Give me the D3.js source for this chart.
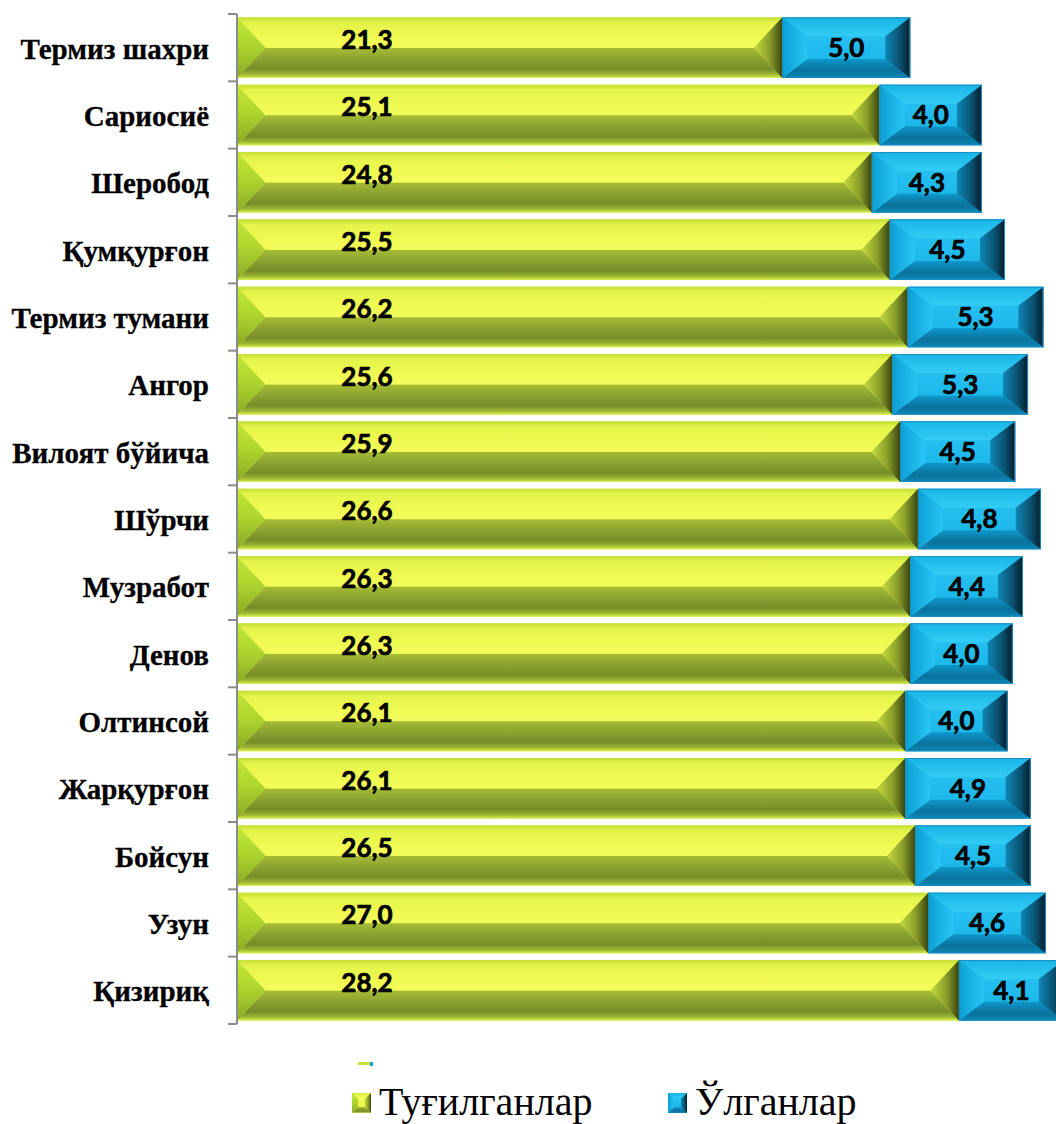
<!DOCTYPE html>
<html>
<head>
<meta charset="utf-8">
<script src="https://cdn.jsdelivr.net/npm/d3@7"></script>
<style>
  html, body { margin: 0; padding: 0; background: #fff; }
  svg { display: block; }
</style>
</head>
<body>
<div id="chart"></div>
<script>
// data
var categories = ["Термиз шахри", "Сариосиё", "Шеробод", "Қумқурғон", "Термиз тумани", "Ангор",
  "Вилоят бўйича", "Шўрчи", "Музработ", "Денов", "Олтинсой", "Жарқурғон", "Бойсун", "Узун", "Қизириқ"];
var births = [21.3, 25.1, 24.8, 25.5, 26.2, 25.6, 25.9, 26.6, 26.3, 26.3, 26.1, 26.1, 26.5, 27.0, 28.2];
var deaths = [5.0, 4.0, 4.3, 4.5, 5.3, 5.3, 4.5, 4.8, 4.4, 4.0, 4.0, 4.9, 4.5, 4.6, 4.1];
var seriesNames = ["Туғилганлар", "Ўлганлар"];

var width = 1056, height = 1124;
var locale = d3.formatLocale({decimal: ",", thousands: " ", grouping: [3], currency: ["", ""]});
var fmt = locale.format(".1f");

var svg = d3.select("#chart").append("svg")
    .attr("width", width)
    .attr("height", height);

var x = d3.scaleLinear().domain([0, 30]).range([237, 237 + 768]);
var y = d3.scaleBand().domain(categories).range([14, 1024]).paddingInner(0.1).paddingOuter(0.05);

// gradients for the bevelled look
var defs = svg.append("defs");
function grad(id, vertical, stops) {
  var g = defs.append("linearGradient").attr("id", id)
    .attr("x1", 0).attr("y1", 0)
    .attr("x2", vertical ? 0 : 1).attr("y2", vertical ? 1 : 0);
  stops.forEach(function(s) {
    g.append("stop").attr("offset", s[0]).attr("stop-color", s[1]);
  });
}
grad("gTop", true, [[0, "#c4de3a"], [0.18, "#e4f44a"], [0.6, "#eef950"], [1, "#f4fc5c"]]);
grad("gBot", true, [[0, "#a6bc36"], [0.35, "#8ca430"], [0.7, "#768c28"], [0.88, "#9cb832"], [1, "#dcf052"]]);
grad("gLeft", true, [[0, "#c4e63a"], [0.45, "#aed62e"], [1, "#8aa826"]]);
grad("gRight", false, [[0, "#c4da3c"], [0.55, "#8a9e2a"], [1, "#3a4410"]]);
grad("bTop", true, [[0, "#18b4e6"], [1, "#34cdf6"]]);
grad("bBot", true, [[0, "#0e98cc"], [0.6, "#0a729c"], [1, "#0c86b6"]]);
grad("bLeft", false, [[0, "#0c9ed2"], [1, "#28c6f4"]]);
grad("bRight", false, [[0, "#0e86b4"], [0.6, "#0a5070"], [1, "#041c28"]]);
grad("bFace", true, [[0, "#2cc6f4"], [1, "#16b2e6"]]);

var green = {face: "#eaf84e", top: "url(#gTop)", bot: "url(#gBot)", left: "url(#gLeft)", right: "url(#gRight)", stroke: "none", bx: 28, by: 30};
var blue = {face: "url(#bFace)", top: "url(#bTop)", bot: "url(#bBot)", left: "url(#bLeft)", right: "url(#bRight)", stroke: "#1a8fc0", bx: 25, by: 19};

function pts(a) { return a.map(function(p) { return p.join(","); }).join(" "); }

function bevelBar(g, x0, x1, y0, h, st) {
  var y1 = y0 + h;
  var bx = Math.min(st.bx, (x1 - x0) / 2), by = Math.min(st.by, h / 2);
  g.append("rect").attr("x", x0).attr("y", y0).attr("width", x1 - x0).attr("height", h).attr("fill", st.face);
  g.append("polygon").attr("points", pts([[x0, y0], [x1, y0], [x1 - bx, y0 + by], [x0 + bx, y0 + by]])).attr("fill", st.top);
  g.append("polygon").attr("points", pts([[x0 + bx, y1 - by], [x1 - bx, y1 - by], [x1, y1], [x0, y1]])).attr("fill", st.bot);
  g.append("polygon").attr("points", pts([[x0, y0], [x0 + bx, y0 + by], [x0 + bx, y1 - by], [x0, y1]])).attr("fill", st.left);
  g.append("polygon").attr("points", pts([[x1, y0], [x1, y1], [x1 - bx, y1 - by], [x1 - bx, y0 + by]])).attr("fill", st.right);
  if (st.stroke != "none") {
    g.append("rect").attr("x", x0 + 0.5).attr("y", y0 + 0.5).attr("width", x1 - x0 - 1).attr("height", h - 1)
      .attr("fill", "none").attr("stroke", st.stroke).attr("stroke-width", 1);
  }
}

function valueText(g, tx, ty, v) {
  g.append("text")
    .attr("x", tx)
    .attr("y", ty)
    .attr("dy", "0.36em")
    .attr("text-anchor", "middle")
    .attr("fill", "#000")
    .attr("stroke", "#000")
    .attr("stroke-width", 0.7)
    .style("font-family", "Lato, sans-serif")
    .style("font-weight", "bold")
    .style("font-size", "26px")
    .text(fmt(v));
}

var bars = svg.append("g").attr("class", "bars");
categories.forEach(function(c, i) {
  var g = bars.append("g");
  var y0 = y(c), h = y.bandwidth();
  bevelBar(g, x(0), x(births[i]), y0, h, green);
  bevelBar(g, x(births[i]), x(births[i] + deaths[i]), y0, h, blue);
  valueText(g, x(0) + 130, y0 + h / 2 - 8, births[i]);
  valueText(g, (x(births[i]) + x(births[i] + deaths[i])) / 2, y0 + h / 2, deaths[i]);
});

// category axis: line with ticks between bands
var axis = svg.append("g").attr("class", "axis");
axis.append("line")
  .attr("x1", x(0)).attr("x2", x(0))
  .attr("y1", y.range()[0]).attr("y2", y.range()[1])
  .attr("stroke", "#8c8c8c").attr("stroke-width", 2);
var edges = categories.map(function(c) { return y(c) - y.step() * y.paddingInner() / 2; });
edges.push(y.range()[1]);
axis.selectAll(".tick").data(edges).enter().append("line")
  .attr("x1", x(0) - 9).attr("x2", x(0))
  .attr("y1", function(d) { return d; }).attr("y2", function(d) { return d; })
  .attr("stroke", "#8c8c8c").attr("stroke-width", 2);

axis.selectAll(".lbl").data(categories).enter().append("text")
  .attr("x", 209)
  .attr("y", function(d) { return y(d) + y.bandwidth() / 2; })
  .attr("dy", "0.38em")
  .attr("text-anchor", "end")
  .attr("stroke", "#000")
  .attr("stroke-width", 0.3)
  .style("font-family", "'Liberation Serif', 'Times New Roman', serif")
  .style("font-weight", "bold")
  .style("font-size", "29px")
  .text(function(d) { return d; });

// legend
var legend = svg.append("g").attr("class", "legend");
legend.append("rect").attr("x", 358).attr("y", 1062).attr("width", 14).attr("height", 3).attr("fill", "#c6e03c");
legend.append("rect").attr("x", 370).attr("y", 1062).attr("width", 3).attr("height", 4).attr("fill", "#1a9fd0");

var legX = [352, 668];
var styles = [green, blue];
seriesNames.forEach(function(name, i) {
  var g = legend.append("g");
  var st = Object.assign({}, styles[i], {bx: 6, by: 6, stroke: "none"});
  bevelBar(g, legX[i], legX[i] + 19, 1093, 20, st);
  g.append("text")
    .attr("x", legX[i] + 27)
    .attr("y", 1115)
    .style("font-family", "'Liberation Serif', 'Times New Roman', serif")
    .style("font-size", "40px")
    .text(name);
});
</script>
</body>
</html>
